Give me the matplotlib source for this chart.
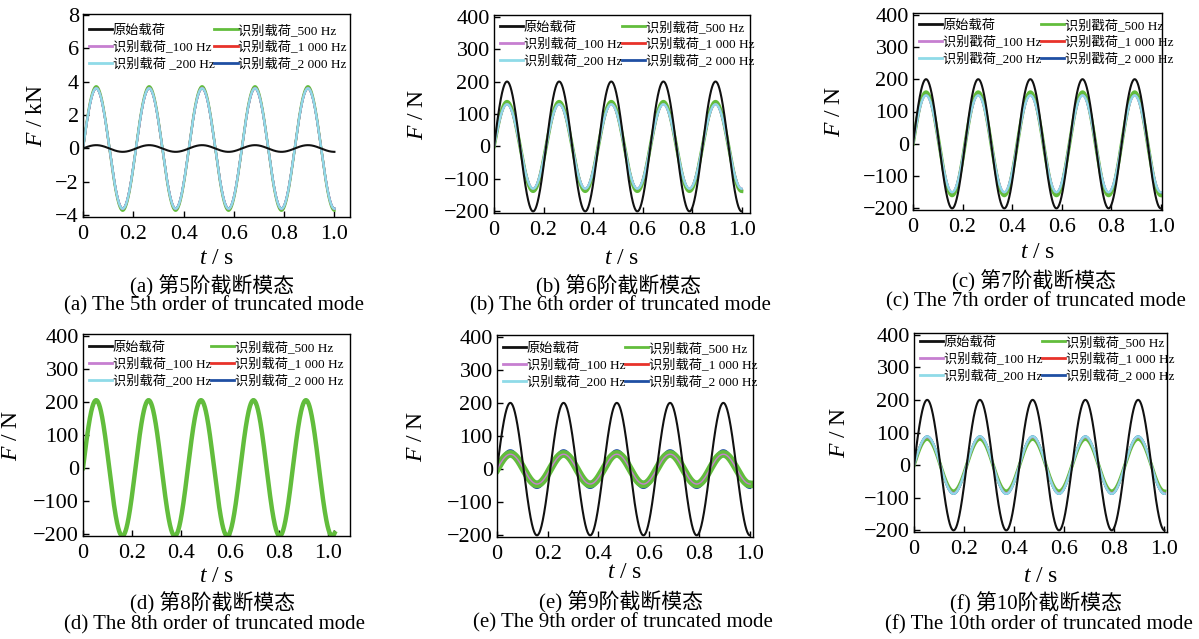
import numpy as np
import matplotlib
matplotlib.use("Agg")
import matplotlib.pyplot as plt

plt.rcParams['font.family'] = ['Liberation Serif', 'Noto Sans CJK SC']
plt.rcParams['mathtext.fontset'] = 'custom'
plt.rcParams['mathtext.it'] = 'Liberation Serif:italic'
plt.rcParams['mathtext.rm'] = 'Liberation Serif'
plt.rcParams['axes.unicode_minus'] = True

# ---- data ----
panel_tags = ['a', 'b', 'c', 'd', 'e', 'f']
orders = [5, 6, 7, 8, 9, 10]
series_names = ['原始载荷', '识别载荷_100 Hz', '识别载荷 _200 Hz', '识别载荷_500 Hz',
                '识别载荷_1 000 Hz', '识别载荷_2 000 Hz']
series_colors = ['#111111', '#c67fd0', '#8fdbe8', '#62bd3c', '#e8322a', '#1f4fa3']
load_freq_hz = [4.75, 4.75, 4.75, 4.67, 4.75, 4.75]   # excitation frequency per panel
t_end = [1.0, 1.0, 1.0, 1.027, 1.0, 1.0]
# amplitudes: original, 100 Hz, 200 Hz, 500 Hz, 1000 Hz, 2000 Hz
amp_a = [0.2, 3.62, 3.6, 3.72, 3.6, 3.6]       # kN
amp_b = [200, 130, 130, 138, 131, 132]
amp_c = [200, 150, 150, 160, 152, 153]
amp_d = [200, 205, 206, 205, 205, 207]
amp_e = [200, 45, 37, 46, 50, 56]
amp_f = [200, 86, 88, 80, 86, 88]
amps = [amp_a, amp_b, amp_c, amp_d, amp_e, amp_f]

y_ticks_a = [-4, -2, 0, 2, 4, 6, 8]
y_ticks_n = [-200, -100, 0, 100, 200, 300, 400]
x_ticks = [0, 0.2, 0.4, 0.6, 0.8, 1.0]
x_tick_labels = ['0', '0.2', '0.4', '0.6', '0.8', '1.0']
y_labels = [r'$F$ / kN', r'$F$ / N', r'$F$ / N', r'$F$ / N', r'$F$ / N', r'$F$ / N']
cap_cn = ['(a) 第5阶截断模态', '(b) 第6阶截断模态', '(c) 第7阶截断模态',
          '(d) 第8阶截断模态', '(e) 第9阶截断模态', '(f) 第10阶截断模态']
cap_en = ['(a) The 5th order of truncated mode', '(b) The 6th order of truncated mode',
          '(c) The 7th order of truncated mode', '(d) The 8th order of truncated mode',
          '(e) The 9th order of truncated mode', '(f) The 10th order of truncated mode']

# ---- layout (pixels) ----
W, H = 1199, 639
boxes = [(83, 14, 350, 217), (494, 15, 750, 213), (913, 13, 1162, 210),
         (83, 334, 350, 536), (497, 335, 753, 537), (914, 333, 1167, 532)]
xmax = [1.062, 1.034, 1.005, 1.09, 1.012, 1.01]
cap_y = [(286, 306), (286, 306), (281, 302), (603, 625), (602, 623), (603, 625)]
tlab_y = [258, 258, 253, 577, 572, 576]
ylab_x = [47, 428, 845, 22, 427, 850]
leg_dy = [4, 0, 0, 1, 1, -3]

fig = plt.figure(figsize=(W / 100, H / 100), dpi=100)

for i in range(6):
    l, t, r, b = boxes[i]
    ax = fig.add_axes([l / W, 1 - b / H, (r - l) / W, (b - t) / H])
    tt = np.linspace(0, t_end[i], 1500)
    f = load_freq_hz[i]
    ylim = (-4.1, 8.05) if i == 0 else (-205, 405)
    if i == 3:
        order = [0, 4, 5, 1, 2, 3]
    elif i == 4:
        order = [0, 4, 5, 2, 3, 1]
    else:
        order = [0, 4, 5, 3, 1, 2]
    widths = [1.5, 1.6, 1.6, 2.6, 1.6, 1.6]
    if i == 3:
        widths[3] = 3.2
    if i == 4:
        widths = [1.5, 1.0, 1.6, 5.5, 1.6, 2.0]
    if i == 0:
        widths[3] = 1.8
    handles = [None] * 6
    for z, k in enumerate(order):
        y = amps[i][k] * np.sin(2 * np.pi * f * tt)
        if k == 0:
            ln, = ax.plot(tt, y, color=series_colors[k], lw=1.5, zorder=6 if i != 3 else 1)
        else:
            ln, = ax.plot(tt, y, color=series_colors[k], lw=widths[k], zorder=2 + z * 0.1)
        handles[k] = ln
    labels = list(series_names)
    if i == 2:
        labels = ['原始载荷', '识别戳荷_100 Hz', '识别戳荷_200 Hz', '识别戳荷_500 Hz',
                  '识别戳荷_1 000 Hz', '识别戳荷_2 000 Hz']
    elif i != 0:
        labels[2] = '识别载荷_200 Hz'
    leg = ax.legend(handles, labels, ncol=2, loc='upper left', frameon=False,
                    fontsize=9.5, handlelength=1.75, handletextpad=0.05, columnspacing=0.0,
                    labelspacing=0.3, borderaxespad=0.0, borderpad=0.45,
                    bbox_to_anchor=(0.0, 1.0 - leg_dy[i] / (b - t)))
    for lh in leg.get_lines():
        lh.set_linewidth(2.0)
    ax.set_xlim(0, xmax[i])
    ax.set_ylim(*ylim)
    ax.set_yticks(y_ticks_a if i == 0 else y_ticks_n)
    ax.set_xticks(x_ticks)
    ax.set_xticklabels(x_tick_labels)
    ax.tick_params(direction='in', labelsize=16, length=4, width=1)
    ax.tick_params(axis='x', pad=6)
    ax.tick_params(axis='y', pad=3)
    for s in ax.spines.values():
        s.set_linewidth(1.0)
    ax.set_ylabel(y_labels[i], fontsize=17)
    ax.yaxis.set_label_coords((ylab_x[i] - l) / (r - l), 0.5)
    cx = (l + r) / 2 / W
    fig.text(cx, 1 - tlab_y[i] / H, r'$t$ / s', ha='center', va='center', fontsize=17)
    fig.text(cx - 4 / W, 1 - cap_y[i][0] / H, cap_cn[i], ha='center', va='center', fontsize=15)
    fig.text(cx - 2 / W, 1 - cap_y[i][1] / H, cap_en[i], ha='center', va='center', fontsize=15)

fig.savefig('out.png', dpi=100)
